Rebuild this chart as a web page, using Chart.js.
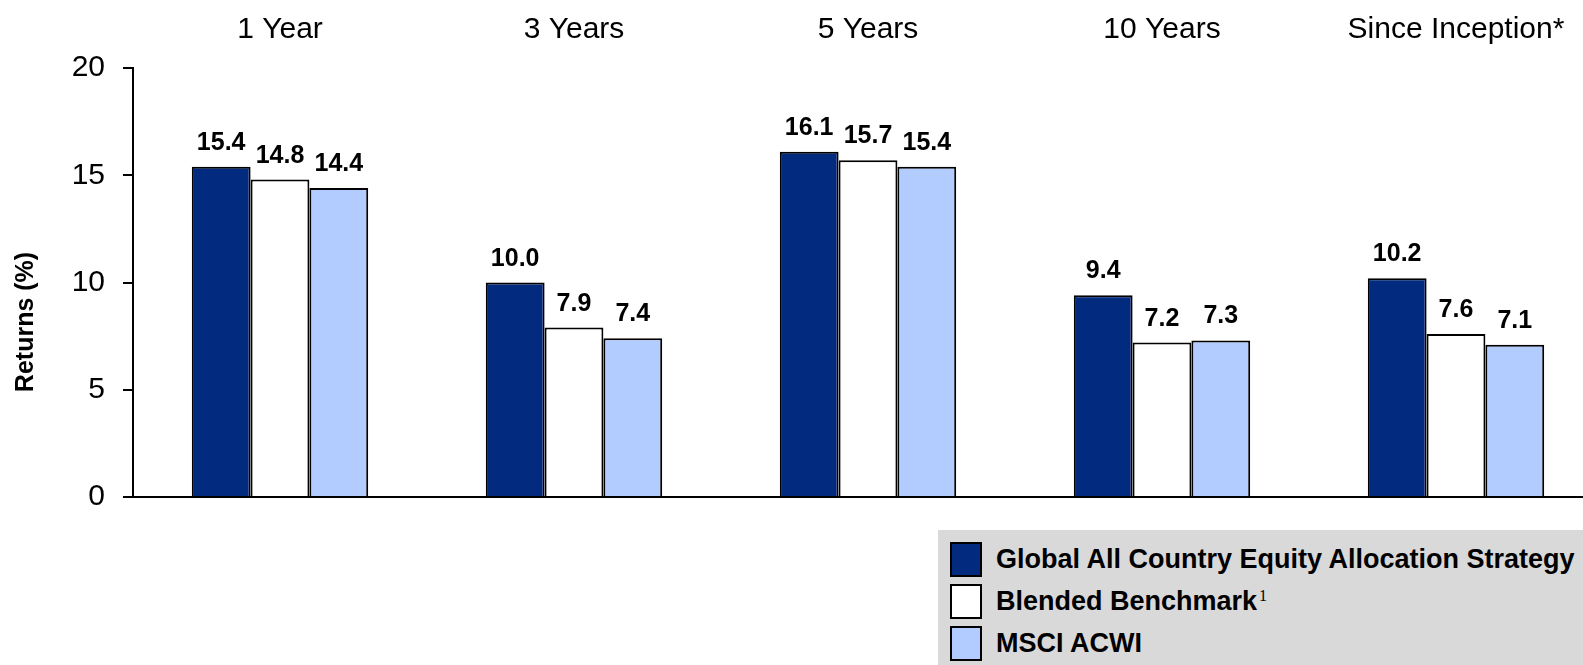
<!DOCTYPE html>
<html>
<head>
<meta charset="utf-8">
<script src="https://cdn.jsdelivr.net/npm/chart.js@4"></script>
<style>
  html, body { margin: 0; padding: 0; background: #ffffff; overflow: hidden; }
  #wrap { position: relative; width: 1583px; height: 665px; overflow: hidden; }
  #returnsChart { position: absolute; left: 0; top: 0; }
  #legend {
    position: absolute; left: 938px; top: 530px; width: 700px; height: 140px;
    background: #d9d9d9; font-family: "Liberation Sans", Arial, sans-serif;
  }
  .row { position: absolute; left: 12px; height: 34px; display: flex; align-items: center; white-space: nowrap; }
  .swatch { width: 28px; height: 31px; border: 2px solid #000; margin-right: 14px; flex: none; }
  .name { font-weight: bold; font-size: 27px; color: #000; }
  .name sup { font-family: "Liberation Serif", "Times New Roman", serif; font-weight: normal; font-size: 16px; color: #000; vertical-align: 9px; margin-left: 2px; }
</style>
</head>
<body>
<div id="wrap">
  <canvas id="returnsChart" width="1640" height="665"></canvas>
  <div id="legend"></div>
</div>
<script>
const periods = ['1 Year', '3 Years', '5 Years', '10 Years', 'Since Inception*'];
const seriesNames = ['Global All Country Equity Allocation Strategy', 'Blended Benchmark', 'MSCI ACWI'];
const seriesNotes = ['', '1', ''];
const strategyReturns = [15.4, 10.0, 16.1, 9.4, 10.2];
const blendedReturns = [14.8, 7.9, 15.7, 7.2, 7.6];
const acwiReturns = [14.4, 7.4, 15.4, 7.3, 7.1];
const yTicks = [0, 5, 10, 15, 20];

const seriesColors = ['#022b7f', '#ffffff', '#b3ccff'];
const fontFamily = '"Liberation Sans", Arial, sans-serif';

// value labels above each bar
const barValueLabels = {
  id: 'barValueLabels',
  afterDatasetsDraw(chart) {
    const ctx = chart.ctx;
    ctx.save();
    ctx.font = 'bold 25px ' + fontFamily;
    ctx.fillStyle = '#000';
    ctx.textAlign = 'center';
    ctx.textBaseline = 'alphabetic';
    chart.data.datasets.forEach((ds, i) => {
      chart.getDatasetMeta(i).data.forEach((bar, j) => {
        ctx.fillText(ds.data[j].toFixed(1), bar.x, bar.y - 17);
      });
    });
    ctx.restore();
  }
};

// rotated y-axis caption, sitting a little below the axis middle
const yCaption = {
  id: 'yCaption',
  afterDraw(chart) {
    const ctx = chart.ctx;
    ctx.save();
    ctx.translate(26, 322);
    ctx.rotate(-Math.PI / 2);
    ctx.font = 'bold 25px ' + fontFamily;
    ctx.fillStyle = '#000';
    ctx.textAlign = 'center';
    ctx.textBaseline = 'middle';
    ctx.fillText('Returns (%)', 0, 0);
    ctx.restore();
  }
};

const ctx = document.getElementById('returnsChart').getContext('2d');
new Chart(ctx, {
  type: 'bar',
  data: {
    labels: periods,
    datasets: [strategyReturns, blendedReturns, acwiReturns].map((vals, i) => ({
      label: seriesNames[i],
      data: vals,
      backgroundColor: seriesColors[i],
      borderColor: '#000000',
      borderWidth: 2,
      categoryPercentage: 0.6,
      barPercentage: 1.0
    }))
  },
  options: {
    responsive: false,
    animation: false,
    layout: { padding: { top: 0, left: 0, right: 37, bottom: 168 } },
    plugins: {
      legend: { display: false },
      tooltip: { enabled: false }
    },
    scales: {
      x: {
        position: 'top',
        grid: { display: false, drawTicks: false },
        border: { display: false },
        ticks: {
          color: '#000',
          padding: 20,
          maxRotation: 0,
          autoSkip: false,
          font: { size: 30, family: fontFamily }
        },
        afterFit(scale) { scale.height = 68; }
      },
      y: {
        min: 0,
        max: 20,
        afterBuildTicks(scale) { scale.ticks = yTicks.map(v => ({ value: v })); },
        afterFit(scale) { scale.width = 133; },
        grid: {
          color: c => (c.tick && c.tick.value === 0 ? '#000' : 'rgba(0,0,0,0)'),
          tickColor: '#000',
          tickLength: 10,
          lineWidth: 2
        },
        border: { display: true, color: '#000', width: 2 },
        ticks: {
          color: '#000',
          padding: 18,
          font: { size: 30, family: fontFamily }
        }
      }
    }
  },
  plugins: [barValueLabels, yCaption]
});

// legend box in the lower right
const legendBox = document.getElementById('legend');
const rowTops = [12, 54, 96];
seriesNames.forEach((name, i) => {
  const row = document.createElement('div');
  row.className = 'row';
  row.style.top = rowTops[i] + 'px';
  const sw = document.createElement('div');
  sw.className = 'swatch';
  sw.style.background = seriesColors[i];
  const txt = document.createElement('span');
  txt.className = 'name';
  txt.textContent = name;
  if (seriesNotes[i]) {
    const sup = document.createElement('sup');
    sup.textContent = seriesNotes[i];
    txt.appendChild(sup);
  }
  row.appendChild(sw);
  row.appendChild(txt);
  legendBox.appendChild(row);
});
</script>
</body>
</html>
